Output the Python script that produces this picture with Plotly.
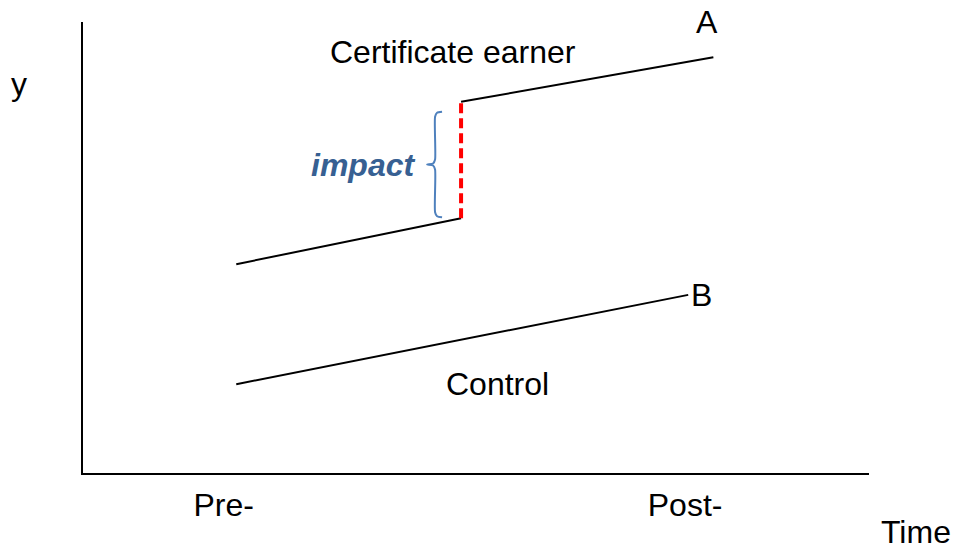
import plotly.graph_objects as go

# ---- data (schematic units, 0-10 on both axes) ----
treated_pre_x = [1.95, 4.81]
treated_pre_y = [4.63, 5.65]
treated_post_x = [4.81, 8.02]
treated_post_y = [8.23, 9.22]
control_x = [1.95, 7.70]
control_y = [1.97, 3.95]
tick_pos = [1.79, 7.66]
tick_labels = ["Pre-", "Post-"]

FONT = "Liberation Sans, Arial, sans-serif"
FS = 32

fig = go.Figure()

# treated group
fig.add_trace(go.Scatter(x=treated_pre_x, y=treated_pre_y, mode="lines",
                         line=dict(color="black", width=2), hoverinfo="skip"))
fig.add_trace(go.Scatter(x=treated_post_x, y=treated_post_y, mode="lines",
                         line=dict(color="black", width=2), hoverinfo="skip"))
# control group
fig.add_trace(go.Scatter(x=control_x, y=control_y, mode="lines",
                         line=dict(color="black", width=2), hoverinfo="skip"))
# impact (jump)
jump_x = [treated_pre_x[-1], treated_post_x[0]]
jump_y = [treated_pre_y[-1], treated_post_y[0]]
fig.add_trace(go.Scatter(x=jump_x, y=jump_y, mode="lines",
                         line=dict(color="#FF0000", width=4, dash="10px,5px"),
                         hoverinfo="skip"))

# curly brace beside the jump (built from the jump values)
px_x = 1 / 78.6
px_y = 1 / 45.1
xj = jump_x[0]
lo, hi = jump_y[0], jump_y[1]
top = hi - 10 * px_y
bot = lo + 1 * px_y
mid = (top + bot) / 2
xr = xj - 19 * px_x
xv = xj - 26 * px_x
xt = xj - 34 * px_x
brace_x = [xr, xv + 2 * px_x, xv, xv, xv - 2 * px_x, xt,
           xv - 2 * px_x, xv, xv, xv + 2 * px_x, xr]
brace_y = [top, top - 1 * px_y, top - 5 * px_y, mid + 5 * px_y, mid + 1 * px_y, mid,
           mid - 1 * px_y, mid - 5 * px_y, bot + 5 * px_y, bot + 1 * px_y, bot]
fig.add_trace(go.Scatter(x=brace_x, y=brace_y, mode="lines",
                         line=dict(color="#4F81BD", width=2, shape="spline", smoothing=0.6),
                         hoverinfo="skip"))

txt = dict(family=FONT, size=FS, color="black")
ann = [
    dict(x=4.71, y=9.33, xref="x", yref="y", text="Certificate earner",
         showarrow=False, font=txt, xanchor="center", yanchor="middle"),
    dict(x=(treated_post_x[-1] - 0.08) / 10, y=1.0, xref="paper", yref="paper", text="A",
         showarrow=False, font=txt, xanchor="center", yanchor="middle"),
    dict(x=control_x[-1] + 0.03, y=control_y[-1], xref="x", yref="y", text="B",
         showarrow=False, font=txt, xanchor="left", yanchor="middle", xshift=-2),
    dict(x=5.27, y=1.97, xref="x", yref="y", text="Control",
         showarrow=False, font=txt, xanchor="center", yanchor="middle"),
    dict(x=xt - 10 * px_x, y=mid, xref="x", yref="y", text="<b><i>impact</i></b>",
         showarrow=False, font=dict(family=FONT, size=FS, color="#376092"),
         xanchor="right", yanchor="middle"),
    dict(x=1.06, y=-0.131, xref="paper", yref="paper", text="Time",
         showarrow=False, font=txt, xanchor="center", yanchor="middle"),
    dict(x=-0.081, y=0.862, xref="paper", yref="paper", text="y",
         showarrow=False, font=txt, xanchor="center", yanchor="middle"),
]

fig.update_layout(
    width=963, height=549,
    margin=dict(l=83, r=94, t=22, b=76),
    paper_bgcolor="white", plot_bgcolor="white",
    showlegend=False,
    annotations=ann,
    xaxis=dict(range=[0, 10], showline=True, linecolor="black", linewidth=2,
               showgrid=False, zeroline=False, ticks="",
               tickvals=tick_pos, ticktext=tick_labels,
               tickfont=txt, ticklabelstandoff=3, fixedrange=True),
    yaxis=dict(range=[0, 10], showline=True, linecolor="black", linewidth=2,
               showgrid=False, zeroline=False, ticks="", showticklabels=False,
               fixedrange=True),
)

fig.write_html(
    "out.html",
    config={"displayModeBar": False},
    post_script="document.body.style.margin='0';document.body.style.overflow='hidden';",
)
